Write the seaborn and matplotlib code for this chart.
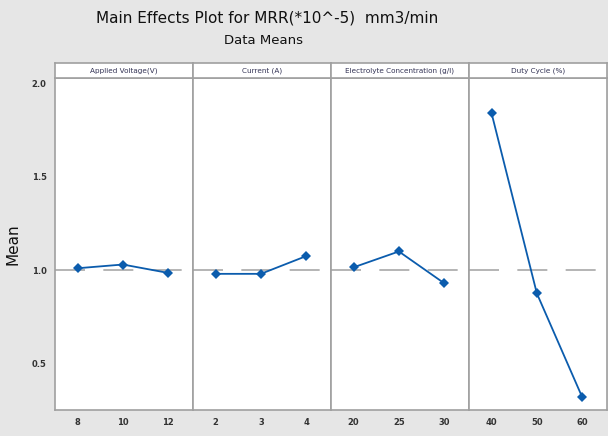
import matplotlib
matplotlib.use("Agg")
import matplotlib.pyplot as plt
import seaborn as sns
import pandas as pd

factors = ["Applied Voltage(V)", "Current (A)", "Electrolyte Concentration (g/l)", "Duty Cycle (%)"]
levels = [["8", "10", "12"], ["2", "3", "4"], ["20", "25", "30"], ["40", "50", "60"]]
means = [[1.01, 1.03, 0.985], [0.98, 0.98, 1.075], [1.015, 1.10, 0.93], [1.84, 0.875, 0.32]]
grand_mean = 1.0
yticks = [0.5, 1.0, 1.5, 2.0]
ytick_labels = ["0.5", "1.0", "1.5", "2.0"]

sns.set_style("white")
plt.rcParams["font.family"] = ["DejaVu Sans"]

fig = plt.figure(figsize=(6.08, 4.36), dpi=100)
fig.patch.set_facecolor("#e6e6e6")

L, R, B, T = 55 / 608, 607 / 608, 1 - 410 / 436, 1 - 78 / 436
strip_h = 15 / 436
W = (R - L) / 4
line_col = "#0b5cad"
edge_col = "#a0a0a0"

for i, (fac, lv, mv) in enumerate(zip(factors, levels, means)):
    ax = fig.add_axes([L + i * W, B, W, T - B])
    df = pd.DataFrame({"pos": range(len(lv)), "mean": mv})
    ax.axhline(grand_mean, color="#a8a8a8", lw=1.2, ls=(0, (18, 11)), zorder=1)
    sns.lineplot(data=df, x="pos", y="mean", ax=ax, color=line_col, lw=1.3,
                 marker="D", markersize=5, markeredgewidth=0, zorder=3)
    ax.set_xlim(-0.5, 2.55)
    ax.set_ylim(0.25, 2.03)
    ax.set_xticks(range(len(lv)))
    ax.set_xticklabels(lv, fontsize=6, fontweight="bold", color="#333333")
    ax.set_xlabel("")
    ax.set_ylabel("")
    ax.set_facecolor("white")
    for s in ax.spines.values():
        s.set_color(edge_col)
        s.set_linewidth(1.2)
    ax.tick_params(axis="x", length=2, width=0.8, color=edge_col, pad=4)
    ax.set_yticks(yticks)
    if i == 0:
        ax.set_yticklabels(ytick_labels, fontsize=6, fontweight="bold", color="#333333")
        ax.tick_params(axis="y", length=2, width=0.8, color=edge_col, pad=4)
    else:
        ax.tick_params(axis="y", length=0, labelleft=False)

    sax = fig.add_axes([L + i * W, T, W, strip_h])
    sax.set_facecolor("white")
    sax.set_xticks([])
    sax.set_yticks([])
    for s in sax.spines.values():
        s.set_color(edge_col)
        s.set_linewidth(1.2)
    sax.text(0.5, 0.45, fac, ha="center", va="center", fontsize=5.2,
             color="#333355", transform=sax.transAxes)

fig.text(13 / 608, 1 - 244 / 436, "Mean", rotation=90, ha="center", va="center",
         fontsize=11, color="#111111")
fig.text(267 / 608, 1 - 18 / 436, "Main Effects Plot for MRR(*10^-5)  mm3/min",
         ha="center", va="center", fontsize=11, color="#111111")
fig.text(263 / 608, 1 - 40 / 436, "Data Means", ha="center", va="center",
         fontsize=9.5, color="#111111")

fig.savefig("out.png", dpi=100, facecolor=fig.get_facecolor())
